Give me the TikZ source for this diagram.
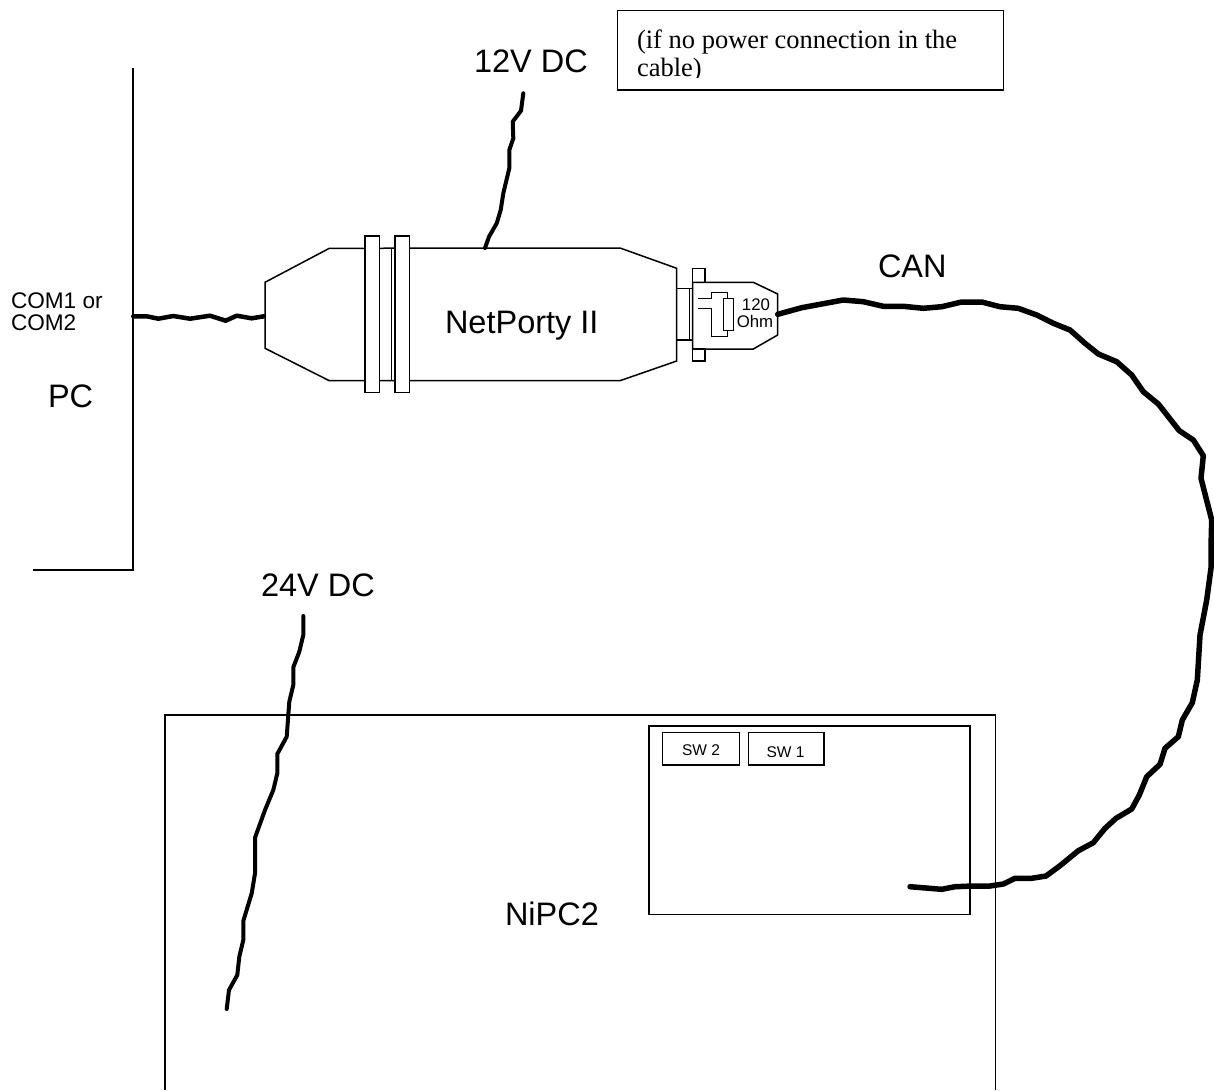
\documentclass[tikz,border=0pt]{standalone}
\usepackage{fontspec}
\setmainfont{Liberation Sans}
\newfontfamily\notefont{Liberation Serif}
\tikzset{
  thin line/.style={draw=black,line width=1.5pt,line join=miter},
  boxnode/.style={thin line,inner sep=0pt,outer sep=0pt,anchor=north west},
  bigtext/.style={inner sep=0pt,outer sep=0pt,anchor=base west,font=\fontsize{32.5}{33}\selectfont},
  smalltext/.style={inner sep=0pt,outer sep=0pt,anchor=center,font=\fontsize{15.5}{16}\selectfont},
  ohmtext/.style={inner sep=0pt,outer sep=0pt,anchor=center,font=\fontsize{16.8}{17}\selectfont},
  wire/.style={draw=black,line width=#1,line cap=round,line join=round},
  wire/.default=4pt
}
\begin{document}
\begin{tikzpicture}[x=1pt,y=-1pt]
\useasboundingbox (0,0) rectangle (1214,1090);
\fill[white] (0,0) rectangle (1214,1090);

% PC frame
\draw[thin line] (133,68) -- (133,570) -- (33,570);
\node[inner sep=0pt,outer sep=0pt,anchor=north west,align=left,font=\fontsize{22.6}{21.5}\selectfont] (comlabel) at (11,293) {COM1 or\\COM2};
\node[bigtext] (pc) at (48,407) {PC};
\coordinate (pcport) at (133.3,316.3);

% Note box
\node[boxnode,minimum width=386pt,minimum height=79.5pt] (note) at (617.3,10.7) {};
\begin{scope}
\clip (618,11) rectangle (1003,77);
\node[inner sep=0pt,outer sep=0pt,anchor=north west,align=left,font=\notefont\fontsize{26.5}{28}\selectfont] (notetext) at (637,30) {(if no power connection in the\\cable)};
\end{scope}

% NetPorty body
\draw[thin line] (265,282.3) -- (329.3,248.3) -- (620,248) -- (676.7,268.3) -- (676.7,361) -- (620,380.7) -- (329.3,380.7) -- (265,348.3) -- cycle;
\coordinate (portleft) at (264,316.3);
\coordinate (porttop) at (485,248);
\draw[thin line,fill=white] (365,236) rectangle (379.3,392.7);
\draw[thin line] (391.7,248.3) -- (391.7,380.7);
\draw[thin line,fill=white] (395,236) rectangle (409.3,392.7);
\node[bigtext] (netporty) at (445,333) {NetPorty II};
\node[bigtext] (v12) at (474,72) {12V DC};

% Plug with terminator
\draw[thin line] (676.7,288.3) rectangle (692.7,340);
\draw[thin line] (689.3,288.3) -- (689.3,340);
\draw[thin line] (692.7,268.3) rectangle (705,282.3);
\draw[thin line] (692.7,349) rectangle (705,361);
\draw[thin line] (692.7,282.3) -- (753.3,282.3) -- (777.7,294) -- (777.7,335) -- (753.3,349) -- (692.7,349) -- cycle;
\coordinate (plugright) at (777.7,314.3);
\draw[thin line] (723.3,298.3) rectangle (733.3,330.7);
\draw[thin line] (698.3,298.3) -- (711.7,298.3) -- (711.7,292.3) -- (727.7,292.3) -- (727.7,298.3);
\draw[thin line] (698.3,308.3) -- (711.7,308.3) -- (711.7,336.7) -- (727.7,336.7) -- (727.7,330.7);
\node[ohmtext] (r120) at (756,305) {120};
\node[ohmtext] (rohm) at (755,321.5) {Ohm};

% Labels
\node[bigtext] (can) at (878,277) {CAN};
\node[bigtext] (v24) at (261,596) {24V DC};
\node[bigtext] (nipc) at (505,925) {NiPC2};

% NiPC2 frame
\draw[thin line] (165,1090) -- (165,714.8) -- (995.5,714.8) -- (995.5,1090);
\node[boxnode,minimum width=321pt,minimum height=188.3pt] (panel) at (649,726) {};
\node[boxnode,minimum width=77pt,minimum height=32.7pt] (sw2box) at (662.7,732.3) {};
\node[smalltext] (sw2) at (701,750) {SW 2};
\node[boxnode,minimum width=75.3pt,minimum height=32.7pt] (sw1box) at (748.7,732.3) {};
\node[smalltext] (sw1) at (785.5,752) {SW 1};

% Wire end points
\coordinate (v12end) at (523.3,93.3);
\coordinate (v24start) at (303.3,616);
\coordinate (v24end) at (226.7,1009);
\coordinate (canend) at (910,886.7);

% Wires
\draw[wire=4.5pt] (pcport) -- (146.7,316.3) -- (158.3,318.7) -- (173.3,316) -- (190,318.7) -- (210,315.7) -- (225.7,320.7) -- (236.7,315.7) -- (251.7,318.3) -- (portleft);
\draw[wire=4pt] (v12end) -- (521,110.7) -- (512.7,121.7) -- (513.3,138.3) -- (509.3,150) -- (509.3,168.3) -- (503.3,193.3) -- (500.7,210) -- (496.7,223.3) -- (489,236.7) -- (porttop);
\draw[wire=4pt] (v24start) -- (303.3,635) -- (299.3,651.7) -- (293.3,667.3) -- (293.3,685) -- (289.3,701.7) -- (286.7,736.7) -- (277.3,754) -- (277.3,773.3) -- (273.3,790) -- (265,810) -- (255,837.7) -- (255,873.3) -- (251.7,893.3) -- (243.3,921) -- (243.3,940) -- (239.3,956.7) -- (237.3,975) -- (229,990) -- (v24end);
\draw[wire=5.5pt] (plugright) -- (801.7,307.7) -- (843.3,300) -- (863.3,301.7) -- (883.3,306.3) -- (903.3,306.3) -- (923.3,308.3) -- (941.7,306.7) -- (961.7,302) -- (981.7,302) -- (1000,306.7) -- (1018.3,308.3) -- (1036.7,315) -- (1053.3,323.3) -- (1070,330) -- (1085,343.3) -- (1098.3,354) -- (1116.7,361.7) -- (1131.7,375) -- (1143.3,391.7) -- (1158.3,404) -- (1168.3,416.7) -- (1179.3,430.7) -- (1193.3,440) -- (1203.3,455.7) -- (1201,478.3) -- (1211.7,520) -- (1211,546.7) -- (1211,568) -- (1206.7,600) -- (1200,635) -- (1197.3,680) -- (1192.3,702.7) -- (1182.3,720) -- (1178.3,736.7) -- (1165,748.3) -- (1160,764.3) -- (1146.7,776.7) -- (1139.3,795) -- (1131.7,809) -- (1116,818.3) -- (1105,828.3) -- (1093.3,842.7) -- (1078.3,850.7) -- (1060,865.7) -- (1046,876) -- (1031.7,878.3) -- (1015,878.3) -- (1003.3,884) -- (990,886) -- (973,886) -- (955,886.7) -- (941.7,889.3) -- (canend);
\end{tikzpicture}
\end{document}
